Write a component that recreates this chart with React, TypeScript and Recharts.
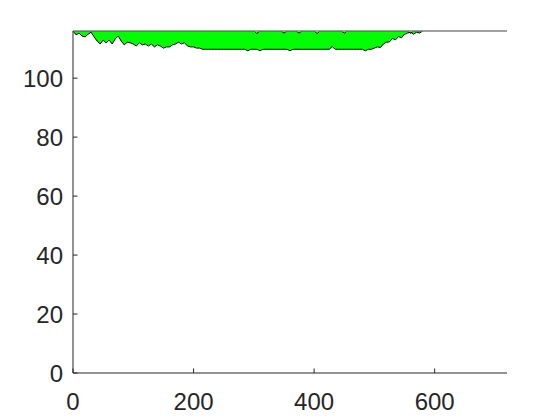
import { ComposedChart, Area, Line, XAxis, YAxis, ReferenceLine } from 'recharts';

// sampled every 5 units along x, 0..580
const step = 5;

const lowerEdge = [
  116, 114.7, 115.3, 114.3, 114.0, 114.9, 115.6, 114.0, 112.6, 111.6,
  112.9, 112.0, 112.9, 111.6, 113.3, 114.3, 112.6, 111.3, 112.2, 112.0,
  111.6, 110.9, 112.0, 111.3, 111.6, 110.9, 111.6, 110.6, 111.3, 110.9,
  110.2, 110.6, 110.6, 111.3, 111.6, 112.2, 111.6, 112.0, 110.9, 110.6,
  110.6, 110.2, 110.2, 109.8, 109.8, 109.8, 109.8, 109.8, 109.8, 109.8,
  109.8, 109.8, 109.8, 109.8, 109.8, 109.8, 109.8, 109.8, 109.3, 109.8,
  109.8, 109.8, 109.3, 109.8, 109.8, 109.8, 109.8, 109.8, 109.8, 109.8,
  109.8, 109.8, 109.3, 109.8, 109.8, 109.8, 109.8, 109.8, 109.8, 109.8,
  109.8, 109.8, 109.8, 109.8, 109.8, 109.8, 110.7, 109.8, 109.8, 109.8,
  109.8, 109.8, 109.8, 109.8, 109.8, 109.8, 109.8, 109.3, 109.8, 109.8,
  110.2, 110.6, 110.4, 111.6, 112.2, 112.3, 113.5, 113.0, 114.1, 113.7,
  114.9, 115.3, 115.6, 114.9, 115.6, 115.3, 116,
];

const upperEdge = [
  116, 116, 116, 116, 116, 116, 116, 116, 116, 116,
  116, 116, 116, 116, 116, 116, 116, 116, 116, 116,
  116, 116, 116, 116, 116, 116, 116, 116, 116, 116,
  116, 116, 116, 116, 116, 116, 116, 116, 116, 116,
  116, 116, 116, 116, 116, 116, 116, 116, 116, 116,
  116, 116, 116, 116, 116, 116, 116, 116, 116, 116,
  116, 115.2, 116, 116, 116, 116, 116, 116, 116, 116,
  115.3, 116, 116, 116, 116, 115.3, 116, 116, 116, 116,
  116, 115.2, 116, 116, 116, 116, 116, 116, 116, 116,
  115.3, 116, 116, 116, 116, 116, 116, 116, 116, 116,
  116, 116, 116, 116, 116, 116, 116, 116, 116, 116,
  116, 116, 115.2, 116, 116, 116, 116,
];

const xTicks = [0, 200, 400, 600];
const yTicks = [0, 20, 40, 60, 80, 100];

const data = lowerEdge.map((low, i) => ({
  x: i * step,
  low,
  high: upperEdge[i],
  band: [low, upperEdge[i]],
}));

const ink = '#262626';
const font = '"Liberation Sans", Arial, Helvetica, sans-serif';

function YTick(props: any) {
  const { x, y, payload } = props;
  return (
    <g>
      <line x1={x + 10} y1={y} x2={x + 14.5} y2={y} stroke={ink} />
      <text x={x} y={y} dy='0.355em' textAnchor='end' fill={ink} fontSize={24} fontFamily={font}>
        {payload.value}
      </text>
    </g>
  );
}

function XTick(props: any) {
  const { x, y, payload } = props;
  return (
    <g>
      <line x1={x} y1={y - 20} x2={x} y2={y - 24.5} stroke={ink} />
      <text x={x} y={y} dy='0.71em' textAnchor='middle' fill={ink} fontSize={24} fontFamily={font}>
        {payload.value}
      </text>
    </g>
  );
}

export default function App() {
  return (
    <ComposedChart
      width={552}
      height={412}
      data={data}
      margin={{ top: 23, right: 53, left: 0, bottom: 0 }}
    >
      <XAxis
        dataKey='x'
        type='number'
        domain={[0, 720]}
        ticks={xTicks}
        height={47}
        tickSize={0}
        tickMargin={20}
        tickLine={false}
        axisLine={{ stroke: ink }}
        tick={<XTick />}
      />
      <YAxis
        type='number'
        domain={[0, 116]}
        ticks={yTicks}
        width={65}
        tickSize={0}
        tickMargin={10}
        tickLine={false}
        axisLine={{ stroke: ink }}
        tick={<YTick />}
        allowDataOverflow
      />
      <Area
        dataKey='band'
        fill='#00ff00'
        fillOpacity={1}
        stroke='none'
        type='linear'
        isAnimationActive={false}
      />
      <Line dataKey='low' stroke='#000' strokeWidth={1} dot={false} type='linear' isAnimationActive={false} />
      <Line dataKey='high' stroke='#000' strokeWidth={1} dot={false} type='linear' isAnimationActive={false} />
      <ReferenceLine y={116} stroke='#808080' strokeWidth={1.5} />
    </ComposedChart>
  );
}
